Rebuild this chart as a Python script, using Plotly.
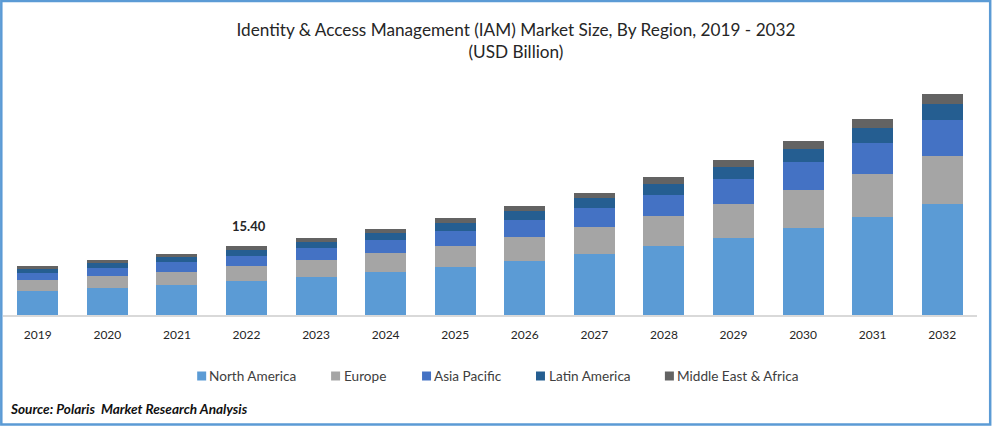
import plotly.graph_objects as go

years = ["2019","2020","2021","2022","2023","2024","2025","2026","2027","2028","2029","2030","2031","2032"]
north_america = [5.36,6.03,6.70,7.59,8.48,9.60,10.71,12.05,13.62,15.40,17.19,19.42,21.88,24.78]
europe = [2.46,2.68,2.90,3.35,3.79,4.24,4.69,5.36,6.03,6.70,7.59,8.48,9.60,10.71]
asia_pacific = [1.56,1.79,2.23,2.23,2.68,2.90,3.35,3.79,4.24,4.69,5.58,6.25,6.92,8.04]
latin_america = [0.89,1.12,1.12,1.34,1.34,1.56,1.79,2.01,2.23,2.46,2.68,2.90,3.35,3.57]
mea = [0.67,0.67,0.67,0.89,0.89,0.89,1.12,1.12,1.12,1.56,1.56,1.79,2.01,2.23]
series = [("North America", north_america, "#5B9BD5"), ("Europe", europe, "#A5A5A5"),
          ("Asia Pacific", asia_pacific, "#4472C4"), ("Latin America", latin_america, "#255E91"),
          ("Middle East & Africa", mea, "#636363")]
labelled_year = "2022"
labelled_total = "15.40"
FONT = "Lato"
W, H = 992, 426
L, R, T, B = 2.7, 14.7, 60, 111
PW, PH = W - L - R, H - T - B
def px(x): return (x - L) / PW
def py(y): return (H - B - y) / PH

fig = go.Figure()
for name, vals, col in series:
    fig.add_bar(x=years, y=vals, name=name, marker=dict(color=col, line=dict(width=0)), width=0.59, showlegend=False)

idx = years.index(labelled_year)
total = sum(s[1][idx] for s in series)
fig.add_annotation(x=idx, y=total, text=f"<b>{labelled_total}</b>", showarrow=False,
                   yanchor="bottom", yshift=10, xshift=2.5, font=dict(family=FONT, size=13, color="#262626"))
fig.add_annotation(xref="paper", yref="paper", x=px(11), xanchor="left", y=py(409), yanchor="middle",
                   showarrow=False, text="<b><i>Source: Polaris&nbsp; Market Research Analysis</i></b>",
                   xshift=-3, font=dict(family=FONT, size=13.6, color="#111111"))

# legend row laid out like the reference (swatch left edge, text left edge)
swatch_left = [197, 331, 422, 536, 665]
text_left = [209, 344, 434, 549, 677]
shapes = [dict(type="rect", xref="paper", yref="paper", layer="above",
               x0=px(1), x1=px(W - 1.5), y0=py(H - 1.5), y1=py(1),
               line=dict(color="#5B9BD5", width=2.5))]
for (name, vals, col), sx, tx in zip(series, swatch_left, text_left):
    shapes.append(dict(type="rect", xref="paper", yref="paper", x0=px(sx), x1=px(sx + 9),
                       y0=py(380.5), y1=py(371.5), fillcolor=col, line=dict(width=0)))
    fig.add_annotation(xref="paper", yref="paper", x=px(tx), xanchor="left", y=py(376), yanchor="middle",
                       showarrow=False, text=name.replace("&", "&amp;"),
                       font=dict(family=FONT, size=13.6, color="#404040"), xshift=-2)

fig.update_layout(
    width=W, height=H, autosize=False, barmode="stack", showlegend=False,
    margin=dict(l=L, r=R, t=T, b=B, pad=0),
    paper_bgcolor="white", plot_bgcolor="white",
    font=dict(family=FONT, size=13, color="#262626"),
    title=dict(text="Identity &amp; Access Management (IAM) Market Size, By Region, 2019 - 2032<br>(USD Billion)",
               x=516/W, xanchor="center", y=1-36/H, yanchor="middle",
               font=dict(family=FONT, size=17.2, color="#262626")),
    xaxis=dict(type="category", range=[-0.5, 13.5], showgrid=False, ticks="", showline=True,
               linecolor="#D9D9D9", linewidth=1.5, ticklabelstandoff=8,
               tickfont=dict(family=FONT, size=12, color="#262626")),
    yaxis=dict(range=[0, 56.92], visible=False),
    shapes=shapes,
)
fig.write_html("out.html", config={"displayModeBar": False},
               post_script="document.body.style.margin='0';document.documentElement.style.overflow='hidden';")
